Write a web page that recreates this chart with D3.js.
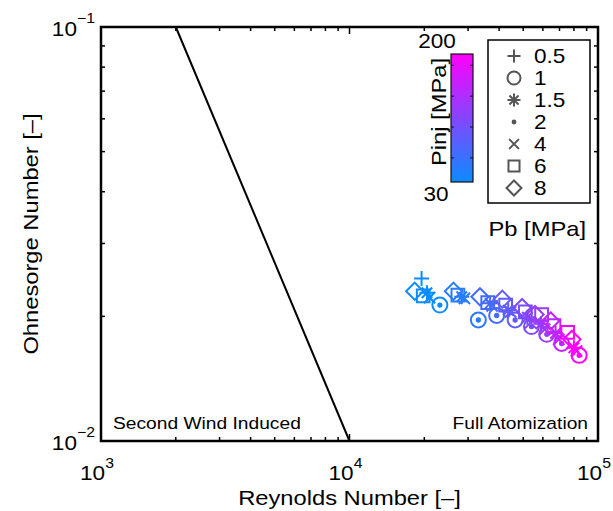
<!DOCTYPE html>
<html>
<head>
<meta charset="utf-8">
<script src="https://cdn.jsdelivr.net/npm/d3@7/dist/d3.min.js"></script>
<style>
  body { margin: 0; background: #fff; }
  text { font-family: "Liberation Sans", Arial, sans-serif; fill: #000; }
</style>
</head>
<body>
<div id="chart"></div>
<script>
// measured points: Reynolds, Ohnesorge, injection pressure, back pressure
var reynolds = [18300, 19500, 19800, 20500, 21000, 23100, 23100,
                26200, 27300, 28300, 29000, 33000, 33000,
                33500, 36000, 36800, 37500, 39100, 39100,
                41200, 42500, 43500, 44500, 46400, 46400,
                49500, 51000, 52000, 53500, 54000, 54000,
                55800, 59300, 59000, 61000, 62200, 62200,
                64500, 66500, 67500, 69500, 71400, 71400,
                78500, 75500, 80000, 82000, 84000, 84000];
var ohnesorge = [0.0230, 0.0247, 0.0224, 0.0228, 0.0222, 0.0213, 0.0213,
                 0.0230, 0.0225, 0.0223, 0.0221, 0.0196, 0.0196,
                 0.0223, 0.0216, 0.0215, 0.0212, 0.0201, 0.0201,
                 0.0220, 0.0213, 0.0207, 0.0205, 0.0196, 0.0196,
                 0.0210, 0.0205, 0.0199, 0.0193, 0.0189, 0.0189,
                 0.0202, 0.0202, 0.0192, 0.0186, 0.0181, 0.0181,
                 0.0195, 0.0190, 0.0182, 0.0176, 0.0172, 0.0172,
                 0.0176, 0.0183, 0.0168, 0.0165, 0.0161, 0.0161];
var pinj = [30, 30, 30, 30, 30, 30, 30,
            50, 50, 50, 50, 50, 50,
            70, 70, 70, 70, 70, 70,
            90, 90, 90, 90, 90, 90,
            110, 110, 110, 110, 110, 110,
            130, 130, 130, 130, 130, 130,
            155, 155, 155, 155, 155, 155,
            200, 200, 200, 200, 200, 200];
var pb = [8, 0.5, 6, 1.5, 4, 1, 2,
          8, 6, 1.5, 4, 1, 2,
          8, 6, 1.5, 4, 1, 2,
          8, 6, 1.5, 4, 1, 2,
          8, 6, 1.5, 4, 1, 2,
          8, 6, 1.5, 4, 1, 2,
          8, 6, 1.5, 4, 1, 2,
          8, 6, 1.5, 4, 1, 2];

// regime boundary line
var boundaryRe = [2000, 10000];
var boundaryOh = [0.1, 0.01];

var pbLevels = ["0.5", "1", "1.5", "2", "4", "6", "8"];
var pbSymbols = ["plus", "circle", "asterisk", "point", "x", "square", "diamond"];
var pinjRange = [30, 200];
var pinjTicks = [62, 103, 144, 185];
var xTickExp = [3, 4, 5];
var yTickExp = [-1, -2];

var W = 613, H = 511;
var pLeft = 101, pRight = 598, pTop = 27, pBottom = 441;
var STRETCH = 1.13;

var svg = d3.select("#chart").append("svg")
    .attr("width", W)
    .attr("height", H);

var x = d3.scaleLog().domain([1e3, 1e5]).range([pLeft, pRight]);
var y = d3.scaleLog().domain([1e-2, 1e-1]).range([pBottom, pTop]);
var color = d3.scaleLinear().domain(pinjRange)
    .range(["#0a8cff", "#ff00ff"]).interpolate(d3.interpolateRgb);

// text drawn slightly wider than the font, like the reference
function addText(px, py, str, size, anchor, rot) {
  var g = svg.append("g")
      .attr("transform", "translate(" + px + "," + py + ") rotate(" + (rot || 0) + ") scale(" + STRETCH + ",1)");
  return g.append("text")
      .attr("text-anchor", anchor || "start")
      .style("font-size", size + "px")
      .text(str);
}

function markerPath(type, s) {
  var p = d3.path();
  if (type == "plus") {
    p.moveTo(-s, 0); p.lineTo(s, 0); p.moveTo(0, -s); p.lineTo(0, s);
  } else if (type == "x") {
    var a = s * 0.75;
    p.moveTo(-a, -a); p.lineTo(a, a); p.moveTo(-a, a); p.lineTo(a, -a);
  } else if (type == "asterisk") {
    var b = s * 0.7;
    p.moveTo(-s, 0); p.lineTo(s, 0); p.moveTo(0, -s); p.lineTo(0, s);
    p.moveTo(-b, -b); p.lineTo(b, b); p.moveTo(-b, b); p.lineTo(b, -b);
  } else if (type == "circle") {
    p.arc(0, 0, s, 0, 2 * Math.PI);
  } else if (type == "point") {
    p.arc(0, 0, s * 0.22, 0, 2 * Math.PI);
  } else if (type == "square") {
    var c = s * 0.85;
    p.rect(-c, -c, 2 * c, 2 * c);
  } else if (type == "diamond") {
    var d = s * 1.15;
    p.moveTo(0, -d); p.lineTo(d, 0); p.lineTo(0, d); p.lineTo(-d, 0); p.closePath();
  }
  return p.toString();
}

// boundary line
svg.append("line")
    .attr("x1", x(boundaryRe[0])).attr("y1", y(boundaryOh[0]))
    .attr("x2", x(boundaryRe[1])).attr("y2", y(boundaryOh[1]))
    .attr("stroke", "#000").attr("stroke-width", 2);

// data markers
var idx = d3.range(reynolds.length);
svg.append("g").selectAll("path")
    .data(idx)
    .enter()
    .append("path")
      .attr("transform", function(i) { return "translate(" + x(reynolds[i]) + "," + y(ohnesorge[i]) + ")"; })
      .attr("d", function(i) {
        var t = pbSymbols[pbLevels.indexOf(String(pb[i]))];
        return markerPath(t, 7.5);
      })
      .attr("fill", function(i) { return pb[i] == 2 ? color(pinj[i]) : "none"; })
      .attr("stroke", function(i) { return color(pinj[i]); })
      .attr("stroke-width", 2);

// ticks, inward on all four sides
var xt = x.ticks(), yt = y.ticks();
function isMajor(v) { return Math.abs(Math.log10(v) - Math.round(Math.log10(v))) < 1e-6; }
var tickG = svg.append("g").attr("stroke", "#000").attr("stroke-width", 1.5);
xt.forEach(function(v) {
  var len = isMajor(v) ? 7 : 4;
  tickG.append("line").attr("x1", x(v)).attr("x2", x(v)).attr("y1", pBottom).attr("y2", pBottom - len);
  tickG.append("line").attr("x1", x(v)).attr("x2", x(v)).attr("y1", pTop).attr("y2", pTop + len);
});
yt.forEach(function(v) {
  var len = isMajor(v) ? 7 : 4;
  tickG.append("line").attr("y1", y(v)).attr("y2", y(v)).attr("x1", pLeft).attr("x2", pLeft + len);
  tickG.append("line").attr("y1", y(v)).attr("y2", y(v)).attr("x1", pRight).attr("x2", pRight - len);
});

// frame
svg.append("rect")
    .attr("x", pLeft).attr("y", pTop)
    .attr("width", pRight - pLeft).attr("height", pBottom - pTop)
    .attr("fill", "none").attr("stroke", "#000").attr("stroke-width", 2.5);

// tick labels
xTickExp.forEach(function(e) {
  var t = addText(x(Math.pow(10, e)) - 4, 480, "", 20, "middle");
  t.append("tspan").text("10");
  t.append("tspan").attr("dy", -12).style("font-size", "14px").text(e);
});
yTickExp.forEach(function(e) {
  var t = addText(95, y(Math.pow(10, e)) + 9, "", 20, "end");
  t.append("tspan").text("10");
  t.append("tspan").attr("dy", -13).style("font-size", "14px").text("\u2212" + (-e));
});

// axis titles
addText((pLeft + pRight) / 2, 505, "Reynolds Number [\u2013]", 21, "middle");
addText(38, (pTop + pBottom) / 2, "Ohnesorge Number [\u2013]", 21, "middle", -90);

// regime labels
addText(113, 429, "Second Wind Induced", 17, "start");
addText(588, 429, "Full Atomization", 17, "end");

// colorbar
var cbX = 451, cbW = 22, cbTop = 54, cbBottom = 182;
var cy = d3.scaleLinear().domain(pinjRange).range([cbBottom, cbTop]);
var grad = svg.append("defs").append("linearGradient")
    .attr("id", "cbgrad").attr("x1", 0).attr("y1", 1).attr("x2", 0).attr("y2", 0);
grad.append("stop").attr("offset", 0).attr("stop-color", color(pinjRange[0]));
grad.append("stop").attr("offset", 1).attr("stop-color", color(pinjRange[1]));
svg.append("rect")
    .attr("x", cbX).attr("y", cbTop).attr("width", cbW).attr("height", cbBottom - cbTop)
    .attr("fill", "url(#cbgrad)").attr("stroke", "#111").attr("stroke-width", 1.2);
pinjTicks.forEach(function(v) {
  svg.append("line").attr("x1", cbX).attr("x2", cbX + 3).attr("y1", cy(v)).attr("y2", cy(v))
      .attr("stroke", "#111").attr("stroke-width", 1);
  svg.append("line").attr("x1", cbX + cbW).attr("x2", cbX + cbW - 3).attr("y1", cy(v)).attr("y2", cy(v))
      .attr("stroke", "#111").attr("stroke-width", 1);
});
addText(437, 48, pinjRange[1], 20, "middle");
addText(436, 201, pinjRange[0], 20, "middle");
addText(446, (cbTop + cbBottom) / 2 - 6, "Pinj [MPa]", 21, "middle", -90);

// legend
var lg = svg.append("g");
lg.append("rect")
    .attr("x", 488).attr("y", 40).attr("width", 102).attr("height", 163)
    .attr("fill", "#fff").attr("stroke", "#000").attr("stroke-width", 1.5);
pbLevels.forEach(function(lab, i) {
  var ly = 56 + i * 22;
  lg.append("path")
      .attr("transform", "translate(514," + ly + ")")
      .attr("d", markerPath(pbSymbols[i], 6.5))
      .attr("fill", pbSymbols[i] == "point" ? "#555" : "none")
      .attr("stroke", "#555").attr("stroke-width", 2);
  addText(534, ly + 7, lab, 20, "start");
});
addText(586, 236, "Pb [MPa]", 21, "end");
</script>
</body>
</html>
